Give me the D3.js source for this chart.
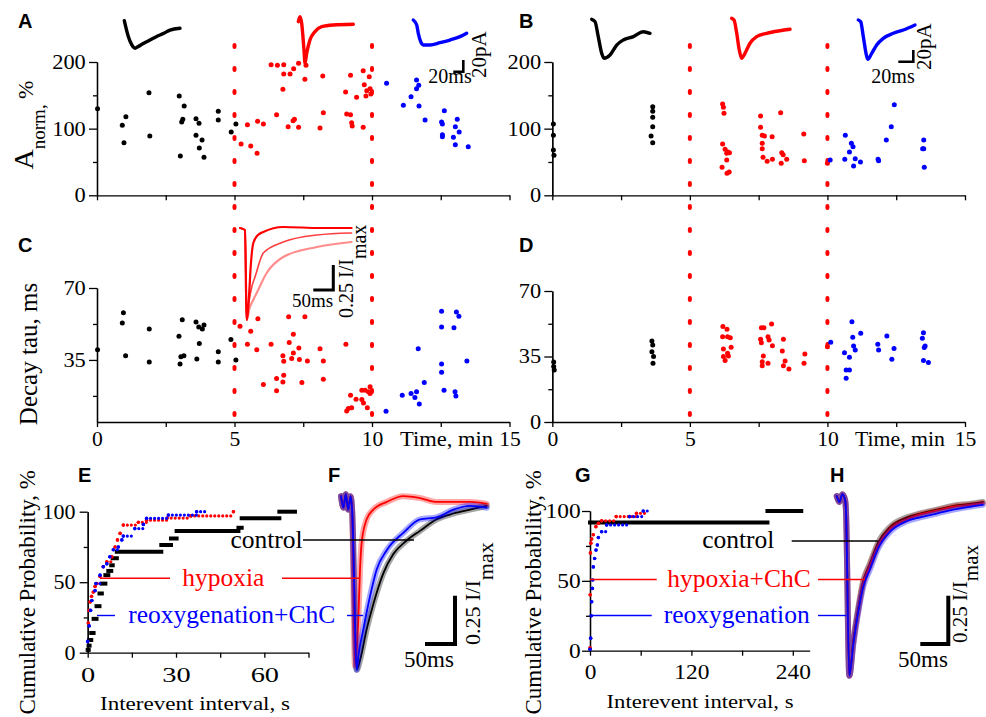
<!DOCTYPE html>
<html>
<head>
<meta charset="utf-8">
<script src="https://cdn.jsdelivr.net/npm/d3@7"></script>
<style>
body { margin: 0; background: #fff; }
svg { display: block; }
text { font-family: "Liberation Serif", "Times New Roman", serif; }
</style>
</head>
<body>
<script>
const RED = '#ff0000', BLUE = '#0000ff', BLACK = '#000000';

// ---- A: amplitude vs time, left cell ([min, %])
const ampA_control = [[0.02,130],[0.92,105],[0.98,79],[1.05,118],[1.89,154],[1.92,89],[2.99,149],[3.03,59],[3.08,110],[3.12,114],[3.17,134],[3.6,115],[3.6,90],[3.71,108],[3.72,71],[3.82,83],[3.89,57],[4.41,126],[4.41,113],[4.88,95],[5.05,107]];
const ampA_hypoxia = [[5.24,77],[5.47,106],[5.59,74],[5.82,63],[5.84,111],[6.05,107],[6.33,196],[6.53,121],[6.56,195],[6.76,159],[6.79,196],[6.79,182],[6.95,103],[7.02,182],[7.13,112],[7.15,190],[7.18,114],[7.33,102],[7.33,198],[7.56,174],[7.6,195],[8.11,101],[8.21,179],[8.23,124],[9.04,155],[9.08,122],[9.22,180],[9.22,121],[9.26,109],[9.28,104],[9.44,147],[9.68,102],[9.68,187],[9.72,166],[9.78,149],[9.9,178],[9.81,157],[9.93,160],[9.96,152]];
const ampA_reox = [[10.53,168],[11.14,135],[11.42,148],[11.62,160],[11.62,173],[11.7,165],[11.71,134],[11.93,113],[12.53,110],[12.56,107],[12.56,91],[12.56,88],[12.63,127],[12.96,87],[13.03,103],[13.03,76],[13.1,114],[13.17,95],[13.5,73]];

// ---- B: amplitude vs time, ChC cell
const ampB_control = [[0.04,107],[0.04,90],[0.04,68],[0.06,60],[3.65,133],[3.65,126],[3.65,117],[3.65,103],[3.59,89],[3.65,79]];
const ampB_hypoxia = [[6.19,137],[6.22,132],[6.24,123],[6.19,77],[6.17,42],[6.28,69],[6.34,63],[6.34,53],[6.38,65],[6.44,64],[6.35,33],[6.43,35],[7.57,119],[7.57,102],[7.63,90],[7.71,89],[7.63,78],[7.63,70],[7.99,88],[7.66,57],[7.81,51],[8.0,54],[8.3,124],[8.34,64],[8.39,61],[8.32,48],[8.52,54],[9.14,92],[9.16,52],[10.0,48]];
const ampB_reox = [[10.1,53],[10.63,54],[10.65,90],[10.8,65],[10.87,78],[10.93,73],[10.95,44],[11.01,55],[11.2,50],[11.84,54],[11.86,52],[12.14,83],[12.32,103],[12.43,136],[13.5,83],[13.5,70],[13.46,70],[13.52,42]];

// ---- C: decay tau vs time ([min, ms])
const tauC_control = [[0.02,40],[0.92,53],[0.96,58],[1.04,37],[1.9,50],[1.9,34],[2.98,46.5],[3.02,33],[3.05,36.5],[3.1,54.6],[3.16,37],[3.6,53.5],[3.63,35.5],[3.7,51],[3.72,43],[3.83,50],[3.89,52],[4.41,39],[4.41,34],[4.87,45],[5.05,35]];
const tauC_hypoxia = [[5.2,51.4],[5.47,42.6],[5.59,49],[5.81,40],[5.85,55],[6.05,23],[6.33,42.6],[6.53,26],[6.53,20],[6.76,24.3],[6.79,27.6],[6.76,37],[6.79,34.4],[6.97,56],[6.99,43.5],[7.14,47.5],[7.14,38.4],[7.08,35.7],[7.34,40.8],[7.36,35.2],[7.45,24],[7.56,56],[7.65,34.5],[8.11,40.5],[8.23,34.5],[8.23,25.6],[9.05,42.6],[9.08,10.2],[9.14,11.4],[9.22,17.8],[9.26,11.7],[9.42,15.9],[9.63,20.3],[9.63,15.7],[9.69,14.1],[9.75,20.3],[9.83,11.7],[9.87,19.5],[9.93,21.9],[9.93,18.7]];
const tauC_reox = [[10.51,10],[11.1,17.8],[11.42,18.7],[11.56,16.7],[11.62,19.5],[11.68,40.5],[11.72,13.5],[11.9,24],[12.53,58.7],[12.53,51],[12.53,33],[12.53,29],[12.62,20.3],[12.98,50.6],[13.02,19.5],[13.05,17.4],[13.07,58.3],[13.16,56.2],[13.45,34.5]];

// ---- D
const tauD_control = [[0.05,32],[0.05,29.6],[0.07,27.8],[3.62,43.3],[3.65,41.2],[3.62,37.6],[3.68,35],[3.66,31.4]];
const tauD_hypoxia = [[6.2,51],[6.35,49.5],[6.19,45.6],[6.37,45.6],[6.47,45],[6.22,39],[6.5,40],[6.22,35],[6.37,36.7],[6.28,32.8],[6.4,35.3],[7.6,50.4],[7.69,50.4],[7.97,52.4],[7.57,44.2],[7.6,42.4],[7.84,45.6],[7.88,43.8],[8.0,40.8],[7.67,35.3],[7.63,32.2],[7.63,30],[7.84,31.4],[8.4,44.2],[8.36,38],[8.46,32.6],[8.4,30],[8.6,28.3],[9.18,36.3],[9.15,31.4],[10.0,40.2]];
const tauD_reox = [[10.12,42.6],[10.62,37],[10.68,27.8],[10.8,27.8],[10.68,23.4],[10.8,34.6],[10.89,53.6],[10.92,45.3],[10.95,40.6],[11.01,38.5],[11.21,47.4],[11.83,41.5],[11.86,38.5],[12.16,46],[12.34,33.5],[12.42,39.3],[13.49,47.7],[13.45,44.7],[13.55,40.6],[13.52,39.8],[13.49,32.8],[13.67,31.8]];

// ---- inset traces over A and B ([ms, pA])
const insA_control = [[0,0],[8,-27],[14.8,-41],[21.4,-47],[28,-44],[38,-39],[51.4,-33],[64.8,-27],[78,-22],[91.4,-16],[111.4,-13]];
const insA_hypoxia = [[0,0],[3.4,8.5],[6.8,-3],[11.4,-48.7],[13.4,-71],[16.8,-54],[23.4,-31],[33.4,-17],[46.8,-8.5],[70,-5.6],[110,-4.4]];
const insA_reox = [[0,0],[6.8,-8.5],[10,-22.7],[14.8,-37],[20,-42.7],[33.4,-42.7],[53.4,-38.8],[73.4,-34.2],[93.4,-28.5],[106.8,-22.7]];
const insB_control = [[0,0],[4.4,-4],[8.8,-30],[13.3,-58],[16.4,-66.7],[24.4,-61],[33.3,-44],[42.1,-35.4],[55.5,-29.7],[68.8,-21.2],[77.7,-24]];
const insB_hypoxia = [[0,0],[3.1,-3],[6.7,-25.6],[10.1,-54.2],[13.3,-68.4],[17.7,-59.8],[24.4,-42.7],[33.3,-31.3],[46.7,-25.6],[64.4,-21.2],[77.7,-18.8]];
const insB_reox = [[0,0],[3.2,-3],[6.7,-28.5],[10.3,-57],[12.5,-67.2],[17.9,-57],[24.5,-42.7],[33.3,-31.3],[46.7,-22.7],[60,-17.1],[75.6,-8.5]];

// ---- inset over C, normalised ([ms, I/Imax])
const insC_fast = [[0,0],[12.5,-0.02],[16.7,-0.92],[23,-0.65],[26.7,-0.39],[33.3,-0.15],[45,-0.07],[58.3,-0.04],[108,0.01],[200,0],[279,0]];
const insC_mid = [[0,0],[12.5,-0.02],[16.7,-0.92],[22,-0.75],[30,-0.58],[37.5,-0.49],[58.3,-0.25],[108,-0.14],[192,-0.07],[279,-0.05]];
const insC_slow = [[0,0],[12.5,-0.02],[16.7,-0.92],[24,-0.8],[33,-0.72],[41.7,-0.65],[66.7,-0.45],[108,-0.29],[192,-0.19],[279,-0.14]];

// ---- E, G: cumulative probability ([s, %]) + end of last step
const cumE_control = [[0,2],[0.3,5],[0.5,9],[1.2,14],[2,24],[3,33],[4,42],[4.8,49],[6,55],[7,58],[8,62],[8.5,67],[9.9,71.6],[25,76.4],[28.3,81],[30.2,86.3],[51.2,88.6],[52.3,95.3],[65.1,100]];
const cumE_hypoxia = [[0.2,21],[0.5,30],[0.8,36],[1.3,40],[1.9,43],[2.5,47],[3.1,49],[4.2,54],[5.3,61],[6.5,64.5],[8.2,68],[9.3,75],[10.1,80],[11,84.6],[12.1,90.5],[17.2,92.5],[20,94],[27,95.5],[35,97],[49.5,100]];
const cumE_reox = [[0,8],[0.5,19],[1,30],[1.4,37],[2.5,44],[2.8,49],[4.2,55],[5.3,61],[6.5,63],[7.5,68],[8.7,73],[10.4,75],[11.6,80],[12.1,82.7],[16,88],[18.9,91],[20,95.3],[27.4,97.6],[37,100]];
const cumE_end = [70.4, 50, 40];
const cumG_control = [[0,91.7],[210,100]];
const cumG_hypoxia = [[0,2],[0.2,40],[0.5,70],[1,77],[2,80],[3.9,83],[7,88.8],[10,91.2],[13.8,93],[31,96],[55,98.3]];
const cumG_reox = [[0,1],[0.8,9],[1.5,25],[2,35],[2.8,44.6],[3.2,50.6],[3.9,60],[5.5,66],[7.1,72],[8.7,75.7],[9.9,81],[13.8,85.2],[19.7,90],[47,96],[63,100]];
const cumG_end = [250, 66, 70];

// ---- F, H: averaged normalised currents ([ms, I/Imax])
const trF_control = [[0,0.02],[4,-0.04],[8,0.03],[12,-0.05],[16,0.02],[18.5,-0.05],[26.2,-0.88],[31.7,-0.83],[42.8,-0.67],[53.8,-0.54],[70.5,-0.38],[87.2,-0.28],[109.5,-0.21],[131.7,-0.16],[159.5,-0.1],[187.2,-0.07],[215,-0.05],[242.8,-0.03]];
const trF_hypoxia = [[0,0.02],[4,-0.04],[8,0.03],[12,-0.05],[16,0.02],[18.5,-0.05],[23.3,-0.86],[28.8,-0.62],[31.7,-0.36],[34.5,-0.22],[42.8,-0.1],[53.8,-0.05],[76.2,-0.01],[103.8,0.02],[131.7,0.01],[159.5,-0.01],[187.2,-0.01],[215,-0.01],[242.8,-0.02]];
const trF_reox = [[0,0.02],[4,-0.04],[8,0.03],[12,-0.05],[16,0.02],[18.5,-0.05],[26.2,-0.88],[28.8,-0.81],[37.2,-0.67],[48.3,-0.5],[59.5,-0.36],[76.2,-0.26],[103.8,-0.17],[131.7,-0.1],[159.5,-0.09],[187.2,-0.05],[215,-0.03],[242.8,-0.04]];
const trH_control = [[0,0.02],[5,-0.01],[10,0.03],[15,0],[16.5,-0.05],[22.5,-0.91],[29.6,-0.73],[38.5,-0.56],[47.4,-0.42],[59.3,-0.33],[74.1,-0.22],[95,-0.14],[125,-0.09],[148.8,-0.07],[178.6,-0.05],[208.3,-0.03],[238,-0.02],[261,-0.01]];
const trH_hypoxia = [[0,0.02],[5,-0.01],[10,0.03],[15,0],[16.5,-0.05],[22.5,-0.91],[29.6,-0.74],[38.5,-0.57],[47.4,-0.43],[59.3,-0.34],[74.1,-0.235],[95,-0.15],[125,-0.1],[148.8,-0.075],[178.6,-0.055],[208.3,-0.035],[238,-0.025],[261,-0.015]];
const trH_reox = [[0,0.02],[5,-0.01],[10,0.03],[15,0],[16.5,-0.05],[22.5,-0.91],[29.6,-0.75],[38.5,-0.58],[47.4,-0.45],[59.3,-0.36],[74.1,-0.25],[95,-0.165],[125,-0.11],[148.8,-0.09],[178.6,-0.07],[208.3,-0.05],[238,-0.035],[261,-0.025]];

const SERIF = '"Liberation Serif", "Times New Roman", serif';
const svg = d3.select('body').append('svg').attr('width', 986).attr('height', 717);

function txt(x, y, s, size, opt) {
  opt = opt || {};
  let tr = `translate(${x},${y})`;
  if (opt.sx) tr += ` scale(${opt.sx},1)`;
  if (opt.rot) tr += ` rotate(${opt.rot})`;
  const t = svg.append('text').attr('transform', tr)
    .attr('font-size', size).attr('fill', opt.fill || BLACK)
    .attr('text-anchor', opt.anchor || 'start');
  if (opt.bold) t.style('font-family', '"Liberation Sans", Arial, sans-serif').attr('font-weight', 'bold');
  if (opt.len) t.attr('textLength', opt.len).attr('lengthAdjust', 'spacingAndGlyphs');
  t.text(s);
  return t;
}

// d3 puts font-size 10 / sans-serif on every axis group, so restyle the texts themselves
function styleAxis(g, size, sx) {
  g.selectAll('g').attr('font-size', null).attr('font-family', null);
  g.attr('font-size', null).attr('font-family', null);
  g.selectAll('path, line').attr('stroke', BLACK).attr('stroke-width', 1.3);
  g.selectAll('text').attr('font-size', size).attr('fill', BLACK).style('font-family', SERIF);
  if (sx) g.selectAll('text').attr('transform', `scale(${sx},1)`);
}

function yAxis(x, sc, major, minor, pad, sx) {
  const g = svg.append('g').attr('transform', `translate(${x},0)`);
  g.append('g').call(d3.axisLeft(sc).tickValues(minor).tickSize(4).tickSizeOuter(0).tickFormat(''));
  g.append('g').call(d3.axisLeft(sc).tickValues(major).tickSize(8).tickPadding(pad).tickSizeOuter(0));
  styleAxis(g, 20, sx);
}

function xAxis(y, sc, ticks, labels, pad, sx) {
  const g = svg.append('g').attr('transform', `translate(0,${y})`);
  g.call(d3.axisBottom(sc).tickValues(ticks).tickSize(5).tickPadding(pad).tickSizeOuter(0)
    .tickFormat(d => labels.includes(d) ? d : ''));
  styleAxis(g, 20, sx);
}

function scatter(data, xs, ys, color) {
  svg.append('g').selectAll('circle').data(data).join('circle')
    .attr('cx', d => xs(d[0])).attr('cy', d => ys(d[1])).attr('r', 2.5).attr('fill', color);
}

function traceScale(x0, y0, kx, ky) {
  return {
    x: d3.scaleLinear().domain([0, 1]).range([x0, x0 + kx]),
    y: d3.scaleLinear().domain([0, 1]).range([y0, y0 - ky])
  };
}

function trace(data, sc, color, w, op) {
  const line = d3.line().x(d => sc.x(d[0])).y(d => sc.y(d[1])).curve(d3.curveMonotoneX);
  svg.append('path').datum(data).attr('d', line).attr('fill', 'none')
    .attr('stroke', color).attr('stroke-width', w).attr('stroke-opacity', op || 1)
    .attr('stroke-linejoin', 'round').attr('stroke-linecap', 'round');
}

function scaleBar(sc, dt, dv, cx, cy, w) {
  const hx = sc.x(dt) - sc.x(0), vy = sc.y(0) - sc.y(dv);
  svg.append('path').attr('d', `M${cx - hx},${cy}H${cx}V${cy - vy}`)
    .attr('fill', 'none').attr('stroke', BLACK).attr('stroke-width', w);
}

function hline(x1, x2, y, color) {
  svg.append('line').attr('x1', x1).attr('x2', x2).attr('y1', y).attr('y2', y)
    .attr('stroke', color).attr('stroke-width', 1.4);
}

function cumPlot(steps, end, xs, ys, color, solid) {
  const segs = steps.map((d, i) => [d[0], i < steps.length - 1 ? steps[i + 1][0] : end, d[1]]);
  const g = svg.append('g');
  const ln = g.selectAll('line').data(segs).join('line')
    .attr('x1', d => xs(d[0])).attr('x2', d => Math.max(xs(d[1]), xs(d[0]) + 1))
    .attr('y1', d => ys(d[2])).attr('y2', d => ys(d[2])).attr('stroke', color);
  if (solid) {
    ln.attr('stroke-width', 4).attr('stroke-linecap', 'square');
  } else {
    ln.attr('stroke-width', 3.2).attr('stroke-linecap', 'round').attr('stroke-dasharray', '0 4');
    g.selectAll('circle').data(steps).join('circle')
      .attr('cx', d => xs(d[0])).attr('cy', d => ys(d[1])).attr('r', 1.8).attr('fill', color);
  }
}

// ---------- scales
const tA = d3.scaleLinear().domain([0, 15]).range([97, 509.5]);
const tB = d3.scaleLinear().domain([0, 15]).range([552.3, 965]);
const yAmp = d3.scaleLinear().domain([0, 200]).range([195.3, 62]);
const yTauC = d3.scaleLinear().domain([4.8, 70]).range([422, 288]);
const yTauD = d3.scaleLinear().domain([0, 70]).range([422, 291]);
const xE = d3.scaleLinear().domain([0, 75]).range([87.7, 308.5]);
const yE = d3.scaleLinear().domain([0, 100]).range([652.7, 511.7]);
const xG = d3.scaleLinear().domain([0, 260]).range([590, 809.7]);
const yG = d3.scaleLinear().domain([0, 100]).range([650.7, 511]);

const minTicks = [0, 2.5, 5, 7.5, 10, 12.5, 15];

// ---------- panel letters
[['A', 18, 28], ['B', 519, 28], ['C', 18, 252], ['D', 519, 252],
 ['E', 78, 482], ['F', 328, 482], ['G', 575, 482], ['H', 830, 482]]
  .forEach(d => txt(d[1], d[2], d[0], 20, { bold: true }));

// ---------- A, B axes
yAxis(97, yAmp, [0, 100, 200], [50, 150], 2, 1.12);
yAxis(552.3, yAmp, [0, 100, 200], [50, 150], 2, 1.12);
xAxis(195.3, tA, minTicks, [], 3);
xAxis(195.3, tB, minTicks, [], 3);

const an = svg.append('text').attr('transform', 'translate(33,125) rotate(-90)')
  .attr('text-anchor', 'middle').attr('font-size', 28);
an.append('tspan').text('A');
an.append('tspan').attr('font-size', 19).attr('dy', 12).text('norm,');
an.append('tspan').attr('font-size', 22).attr('dy', -12).text(' %');

// ---------- C, D axes
yAxis(97, yTauC, [35, 70], [17.5, 52.5], 2, 1.12);
yAxis(552.3, yTauD, [0, 35, 70], [17.5, 52.5], 2, 1.12);
xAxis(422, tA, minTicks, [0, 5, 10, 15], 5, 1.08);
xAxis(422, tB, minTicks, [0, 5, 10, 15], 5, 1.08);
txt(37, 354, 'Decay tau, ms', 25, { rot: -90, anchor: 'middle' });
txt(493, 446, 'Time, min', 21, { anchor: 'end', len: 93 });
txt(945, 446, 'Time, min', 21, { anchor: 'end', len: 90 });

// ---------- hypoxia borders
[tA, tB].forEach(sc => [5, 10].forEach(v => {
  svg.append('line').attr('x1', sc(v)).attr('x2', sc(v)).attr('y1', 45).attr('y2', 420)
    .attr('stroke', RED).attr('stroke-width', 4).attr('stroke-linecap', 'round')
    .attr('stroke-dasharray', '2 21');
}));

// ---------- scatter
scatter(ampA_control, tA, yAmp, BLACK);
scatter(ampA_hypoxia, tA, yAmp, RED);
scatter(ampA_reox, tA, yAmp, BLUE);
scatter(ampB_control, tB, yAmp, BLACK);
scatter(ampB_hypoxia, tB, yAmp, RED);
scatter(ampB_reox, tB, yAmp, BLUE);
scatter(tauC_control, tA, yTauC, BLACK);
scatter(tauC_hypoxia, tA, yTauC, RED);
scatter(tauC_reox, tA, yTauC, BLUE);
scatter(tauD_control, tB, yTauD, BLACK);
scatter(tauD_hypoxia, tB, yTauD, RED);
scatter(tauD_reox, tB, yTauD, BLUE);

// ---------- insets A, B
const sA1 = traceScale(124.3, 20.7, 0.5, 0.585), sA2 = traceScale(298.3, 21.7, 0.5, 0.585), sA3 = traceScale(413.3, 20, 0.5, 0.585);
trace(insA_control, sA1, BLACK, 3.4);
trace(insA_hypoxia, sA2, RED, 3.4);
trace(insA_reox, sA3, BLUE, 3.4);
scaleBar(sA3, 20, 20, 463.3, 71.7, 2.6);
txt(450, 82.7, '20ms', 20, { anchor: 'middle' });
txt(486, 78, '20pA', 21, { rot: -90 });

const sB1 = traceScale(591.7, 19.3, 0.75, 0.585), sB2 = traceScale(731.7, 18.3, 0.75, 0.585), sB3 = traceScale(858.3, 20, 0.75, 0.585);
trace(insB_control, sB1, BLACK, 3.4);
trace(insB_hypoxia, sB2, RED, 3.4);
trace(insB_reox, sB3, BLUE, 3.4);
scaleBar(sB3, 20, 20, 913.3, 61.7, 2.6);
txt(893, 83, '20ms', 20, { anchor: 'middle' });
txt(931, 70, '20pA', 21, { rot: -90 });

// ---------- inset C
const sC = traceScale(240, 228, 0.4, 100);
trace(insC_slow, sC, '#ff7070', 2.2, 0.8);
trace(insC_mid, sC, '#ff2a2a', 1.6, 0.9);
trace(insC_fast, sC, RED, 2.2);
scaleBar(sC, 50, 0.25, 333.3, 290, 3);
txt(312.5, 306.7, '50ms', 19, { anchor: 'middle' });
const ic = svg.append('text').attr('transform', 'translate(353,318) rotate(-90)').attr('font-size', 20);
ic.append('tspan').text('0.25 I/I');
ic.append('tspan').attr('dy', 13).text('max');

// ---------- E
yAxis(87.7, yE, [0, 50, 100], [25, 75], 3, 1.1);
xAxis(652.7, xE, [0, 15, 30, 45, 60, 75], [0, 30, 60], 10, 1.42);
cumPlot(cumE_control, cumE_end[0], xE, yE, BLACK, true);
cumPlot(cumE_hypoxia, cumE_end[1], xE, yE, RED, false);
cumPlot(cumE_reox, cumE_end[2], xE, yE, BLUE, false);
txt(35, 470, 'Cumulative Probability, %', 23, { rot: -90, anchor: 'end' });
txt(195, 710, 'Interevent interval, s', 19, { anchor: 'middle', len: 190 });

// ---------- G
yAxis(590, yG, [0, 50, 100], [25, 75], 0, 1.17);
xAxis(650.7, xG, [0, 60, 120, 180, 240], [0, 120, 240], 9, 1.17);
cumPlot(cumG_control, cumG_end[0], xG, yG, BLACK, true);
cumPlot(cumG_hypoxia, cumG_end[1], xG, yG, RED, false);
cumPlot(cumG_reox, cumG_end[2], xG, yG, BLUE, false);
txt(541, 470, 'Cumulative Probability, %', 23, { rot: -90, anchor: 'end' });
txt(700, 708, 'Interevent interval, s', 19, { anchor: 'middle', len: 187 });

// ---------- F traces
const sF = traceScale(341, 500, 0.6, 193);
[[trF_control, BLACK], [trF_hypoxia, RED], [trF_reox, BLUE]].forEach(d => {
  trace(d[0], sF, d[1], 6, 0.35);
  trace(d[0], sF, d[1], 1.8);
});
scaleBar(sF, 50, 0.25, 455, 644, 4);
txt(429, 666.7, '50ms', 23, { anchor: 'middle' });
const iF = svg.append('text').attr('transform', 'translate(480,645) rotate(-90)').attr('font-size', 22);
iF.append('tspan').text('0.25 I/I');
iF.append('tspan').attr('dy', 13).text('max');

// ---------- H traces
const sH = traceScale(836.7, 500, 0.56, 193);
[[trH_control, BLACK], [trH_hypoxia, RED], [trH_reox, BLUE]].forEach(d => {
  trace(d[0], sH, d[1], 6, 0.35);
  trace(d[0], sH, d[1], 1.8);
});
scaleBar(sH, 50, 0.25, 948.3, 644, 4);
txt(923, 666.7, '50ms', 23, { anchor: 'middle' });
const iH = svg.append('text').attr('transform', 'translate(967,643) rotate(-90)').attr('font-size', 21);
iH.append('tspan').text('0.25 I/I');
iH.append('tspan').attr('dy', 11).text('max');

// ---------- legends with leader lines
hline(303, 414, 540, BLACK);
hline(100, 170, 578.3, RED);
hline(282, 359, 578.3, RED);
hline(97, 115, 615.5, BLUE);
hline(347, 363, 615.5, BLUE);
txt(266.5, 548.3, 'control', 25.5, { anchor: 'middle' });
txt(223.3, 586, 'hypoxia', 25.5, { anchor: 'middle', fill: RED });
txt(231.7, 623.3, 'reoxygenation+ChC', 25.5, { anchor: 'middle', fill: BLUE });

hline(791.7, 878, 541, BLACK);
hline(590, 656.7, 579.5, RED);
hline(818, 865, 579.5, RED);
hline(590, 651.7, 615.5, BLUE);
hline(818, 846.7, 615.5, BLUE);
txt(738.3, 548.3, 'control', 25.5, { anchor: 'middle' });
txt(739, 587.3, 'hypoxia+ChC', 25.5, { anchor: 'middle', fill: RED });
txt(736.7, 622.7, 'reoxygenation', 25.5, { anchor: 'middle', fill: BLUE });
</script>
</body>
</html>
